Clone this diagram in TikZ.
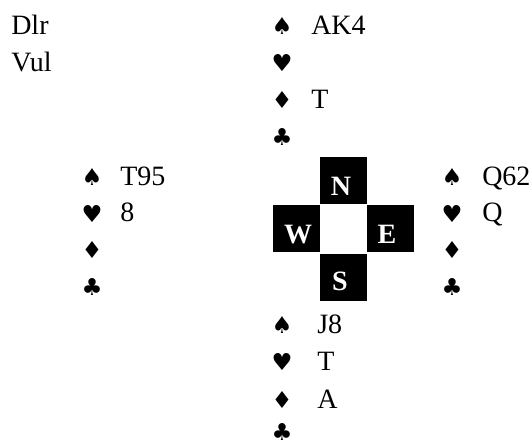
\documentclass[tikz,border=0pt]{standalone}
\usepackage{fontspec}
\setmainfont{Liberation Serif}
\newfontfamily\suitfont{DejaVu Sans}
\begin{document}
\begin{tikzpicture}[x=0.75pt,y=-0.75pt,
  txt/.style={anchor=base west,inner sep=0pt,font=\fontsize{21}{24}\selectfont},
  suit/.style={inner sep=0pt,font=\suitfont\fontsize{17.5}{20}\selectfont},
  box/.style={fill=black,inner sep=0pt,outer sep=0pt,minimum width=35.25pt,minimum height=35.25pt},
  lbl/.style={anchor=base,inner sep=0pt,text=white,font=\bfseries\fontsize{21}{24}\selectfont}]
\useasboundingbox (0,0) rectangle (532,446);
% dealer / vulnerability
\node[txt] (dlr) at (11,34) {Dlr};
\node[txt] (vul) at (11,71.5) {Vul};
% North
\node[suit] (ns) at (282,26) {♠};
\node[suit] (nh) at (282,63) {♥};
\node[suit] (nd) at (282,100) {♦};
\node[suit] (nc) at (282,137) {♣};
\node[txt] (nst) at (311,34) {AK4};
\node[txt] (ndt) at (311,108) {T};
% West
\node[suit] (ws) at (92,177) {♠};
\node[suit] (wh) at (92,213.5) {♥};
\node[suit] (wd) at (92,250) {♦};
\node[suit] (wc) at (92,286.5) {♣};
\node[txt] (wst) at (120,185) {T95};
\node[txt] (wht) at (120,221.5) {8};
% East
\node[suit] (es) at (452,177) {♠};
\node[suit] (eh) at (452,213.5) {♥};
\node[suit] (ed) at (452,250) {♦};
\node[suit] (ec) at (452,286.5) {♣};
\node[txt] (est) at (482,185) {Q62};
\node[txt] (eht) at (482,221.5) {Q};
% South
\node[suit] (ss) at (282,325) {♠};
\node[suit] (sh) at (282,362) {♥};
\node[suit] (sd) at (282,400) {♦};
\node[suit] (sc) at (282,432) {♣};
\node[txt] (sst) at (317,333) {J8};
\node[txt] (sht) at (317,370) {T};
\node[txt] (sdt) at (317,408) {A};
% compass
\node[box] (bn) at (343,180) {};
\node[box] (bw) at (296,228.5) {};
\node[box] (be) at (390,228.5) {};
\node[box] (bs) at (343,277) {};
\node[lbl] (ln) at (341,195) {N};
\node[lbl] (lw) at (298,243) {W};
\node[lbl] (le) at (387,243) {E};
\node[lbl] (ls) at (340,290) {S};
\end{tikzpicture}
\end{document}
